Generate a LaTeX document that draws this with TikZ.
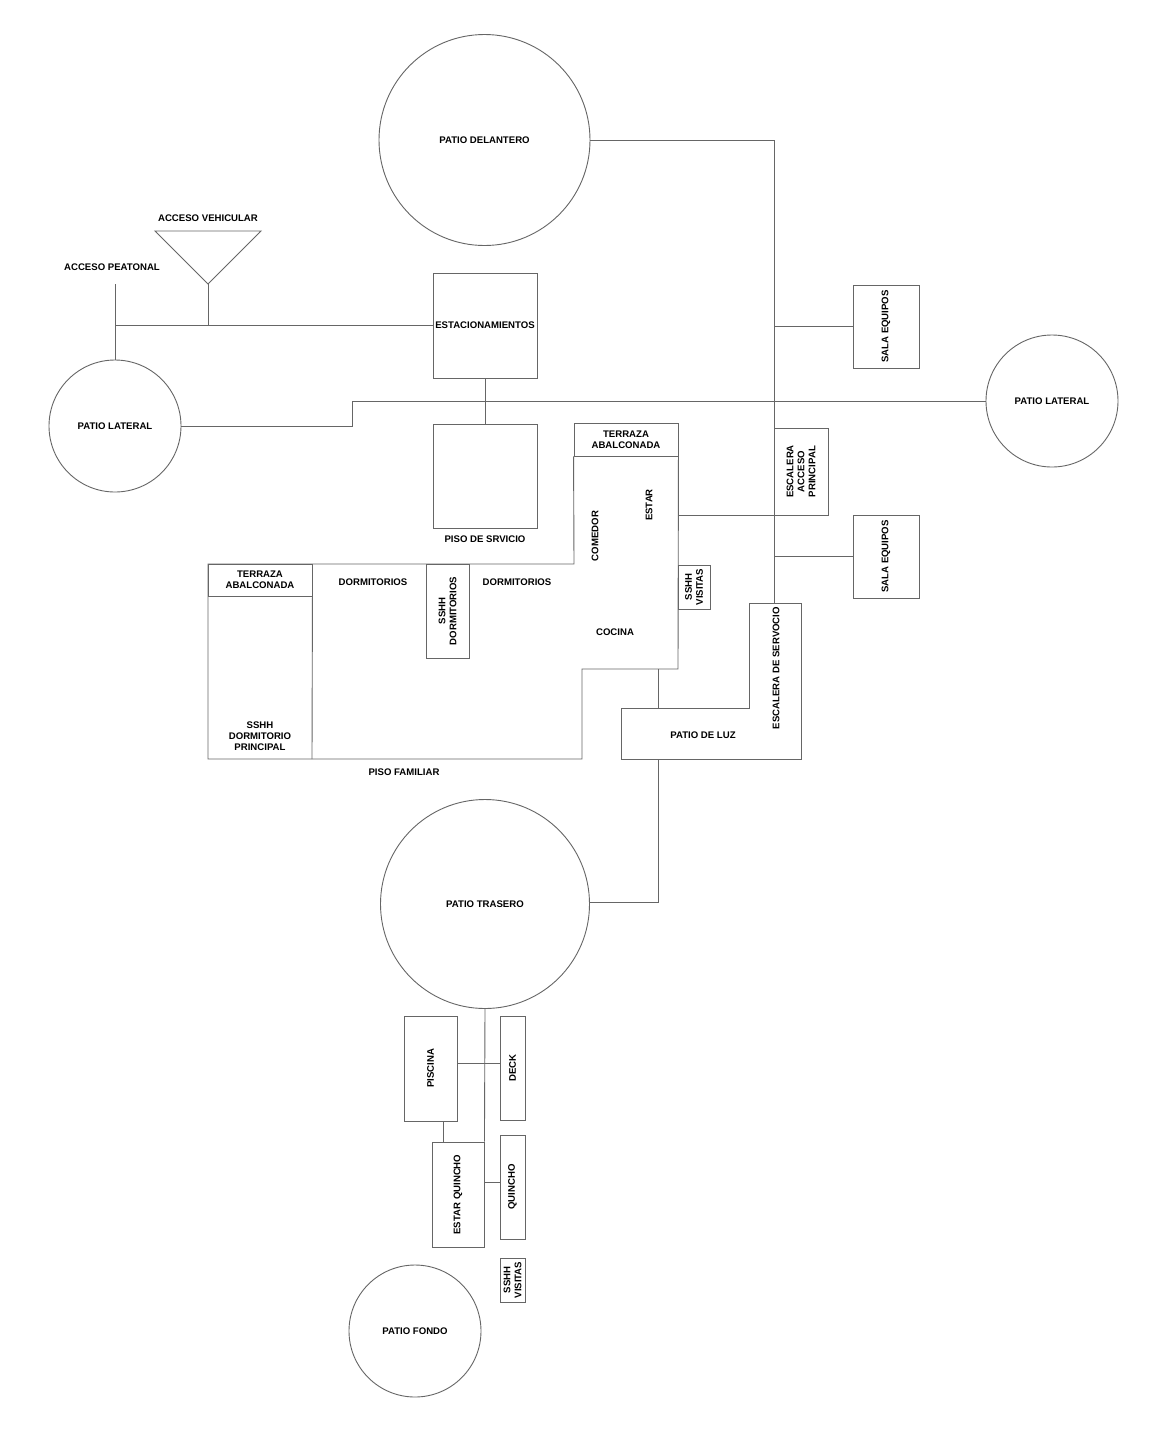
\documentclass[tikz,border=0pt]{standalone}
\usepackage{fontspec}
\setmainfont{Liberation Sans}
\usepackage{tikz}

\begin{document}
\begin{tikzpicture}[x=1pt, y=-1pt,
    trazo/.style={draw=black!60, line width=0.9pt},
    room/.style={trazo, rectangle, inner sep=0pt, align=center},
    patio/.style={trazo, circle, inner sep=0pt, align=center},
    txt/.style={inner sep=0pt, align=center},
    every node/.style={font=\fontsize{9.6}{11}\selectfont\bfseries}]
    \useasboundingbox (0,0) rectangle (1164,1433);
    \fill[white] (0,0) rectangle (1164,1433);
    % patios
    \node[patio, minimum size=211pt] (pdel) at (484.5,140) {PATIO DELANTERO};
    \node[patio, minimum size=132pt] (plat1) at (115,426) {PATIO LATERAL};
    \node[patio, minimum size=132pt] (plat2) at (1052,401) {PATIO LATERAL};
    \node[patio, minimum size=209pt] (ptras) at (485,904) {PATIO TRASERO};
    \node[patio, minimum size=132pt] (pfondo) at (415,1331) {PATIO FONDO};
    % accesos
    \coordinate (vapex) at (208,284);
    \coordinate (peat) at (115,284);
    \draw[trazo] (155,231) -- (261,231) -- (vapex) -- cycle;
    \node[txt] (accveh) at (208,218) {ACCESO VEHICULAR};
    \node[txt] (accpea) at (112,267) {ACCESO PEATONAL};
    % piso de servicio
    \node[room, minimum width=104pt, minimum height=105pt] (est) at (485,325.5) {ESTACIONAMIENTOS};
    \node[room, minimum width=104pt, minimum height=104pt] (pserv) at (485,476) {};
    \node[txt] (pserv-t) at (485,539) {PISO DE SRVICIO};
    \draw[trazo] (peat) -- (plat1.north);
    \draw[trazo] (peat |- est.west) -- (est.west);
    \draw[trazo] (vapex) -- (vapex |- est.west);
    \draw[trazo] (est.south) -- (pserv.north);
    \draw[trazo] (plat1.east) -| (352,401) -- (plat2.west);
    % piso familiar
    \node[room, minimum width=104pt, minimum height=33pt] (terr1) at (626,439.5) {TERRAZA\\ABALCONADA};
    \node[room, minimum width=104pt, minimum height=32pt] (terr2) at (260,580) {TERRAZA\\ABALCONADA};
    \node[room, minimum width=32pt, minimum height=44pt] (ssvis1) at (694,587) {};
    \node[txt, rotate=90] (ssvis1-t) at (ssvis1) {SSHH\\VISITAS};
    \node[room, minimum width=43pt, minimum height=94pt] (ssdorm) at (447.5,611) {};
    \node[txt, rotate=90] (ssdorm-t) at (ssdorm) {SSHH\\DORMITORIOS};
    \draw[trazo] (terr1.south west) -- (574,564) -- (208,564) -- (208,759)
        -- (582,759) -- (582,669) -- (678,669) -- (terr1.south east);
    \draw[trazo] (terr2.south east) -- (312,759);
    \node[txt, rotate=90] (comedor) at (595,536) {COMEDOR};
    \node[txt, rotate=90] (estar) at (649,505) {ESTAR};
    \node[txt] (cocina) at (615,632) {COCINA};
    \node[txt] (dorm1) at (373,582) {DORMITORIOS};
    \node[txt] (dorm2) at (517,582) {DORMITORIOS};
    \node[txt] (sshhdp) at (260,736) {SSHH\\DORMITORIO\\PRINCIPAL};
    \node[txt] (pfam) at (404,772) {PISO FAMILIAR};
    % circulaciones y equipos
    \node[room, minimum width=54pt, minimum height=87pt] (escacc) at (801,471.5) {};
    \node[txt, rotate=90] (escacc-t) at (escacc) {ESCALERA\\ACCESO\\PRINCIPAL};
    \node[room, minimum width=66pt, minimum height=83pt] (sala1) at (886,326.5) {};
    \node[txt, rotate=90] (sala1-t) at (sala1) {SALA EQUIPOS};
    \node[room, minimum width=66pt, minimum height=83pt] (sala2) at (886,556.5) {};
    \node[txt, rotate=90] (sala2-t) at (sala2) {SALA EQUIPOS};
    \coordinate (escN) at (774,603);
    \coordinate (cocS) at (658,669);
    \coordinate (luzN) at (658,708);
    \coordinate (luzS) at (658,759);
    \coordinate (estarE) at (678,515);
    \draw[trazo] (621,708) -- (749,708) -- (749,603) -- (801,603) -- (801,759) -- (621,759) -- cycle;
    \node[txt] (luz) at (703,735) {PATIO DE LUZ};
    \node[txt, rotate=90] (escserv) at (776,668) {ESCALERA DE SERVOCIO};
    \draw[trazo] (pdel.east) -| (escN);
    \draw[trazo] (sala1.west) -- (sala1.west -| escN);
    \draw[trazo] (sala2.west) -- (sala2.west -| escN);
    \draw[trazo] (estarE) -- (estarE -| escacc.east);
    \draw[trazo] (cocS) -- (luzN);
    \draw[trazo] (luzS) |- ([yshift=2pt]ptras.east);
    % patio trasero
    \node[room, minimum width=53pt, minimum height=105pt] (piscina) at (430.5,1068.5) {};
    \node[txt, rotate=90] (piscina-t) at (piscina) {PISCINA};
    \node[room, minimum width=25pt, minimum height=104pt] (deck) at (512.5,1068) {};
    \node[txt, rotate=90] (deck-t) at (deck) {DECK};
    \node[room, minimum width=52pt, minimum height=105pt] (estq) at (458,1194.5) {};
    \node[txt, rotate=90] (estq-t) at (estq) {ESTAR QUINCHO};
    \node[room, minimum width=25pt, minimum height=104pt] (quincho) at (512.5,1187) {};
    \node[txt, rotate=90] (quincho-t) at (quincho) {QUINCHO};
    \node[room, minimum width=25pt, minimum height=44pt] (ssvis2) at (512.5,1280) {};
    \node[txt, rotate=90] (ssvis2-t) at (ssvis2) {SSHH\\VISITAS};
    \draw[trazo] (ptras.south) -- (estq.north east);
    \draw[trazo] ([yshift=5pt]piscina.east) -- ([yshift=5pt]piscina.east -| deck.west);
    \draw[trazo] ([xshift=-14pt]piscina.south east) -- ([xshift=-14pt]piscina.south east |- estq.north);
    \draw[trazo] ([yshift=5pt]quincho.west) -- ([yshift=5pt]quincho.west -| estq.east);
\end{tikzpicture}
\end{document}
